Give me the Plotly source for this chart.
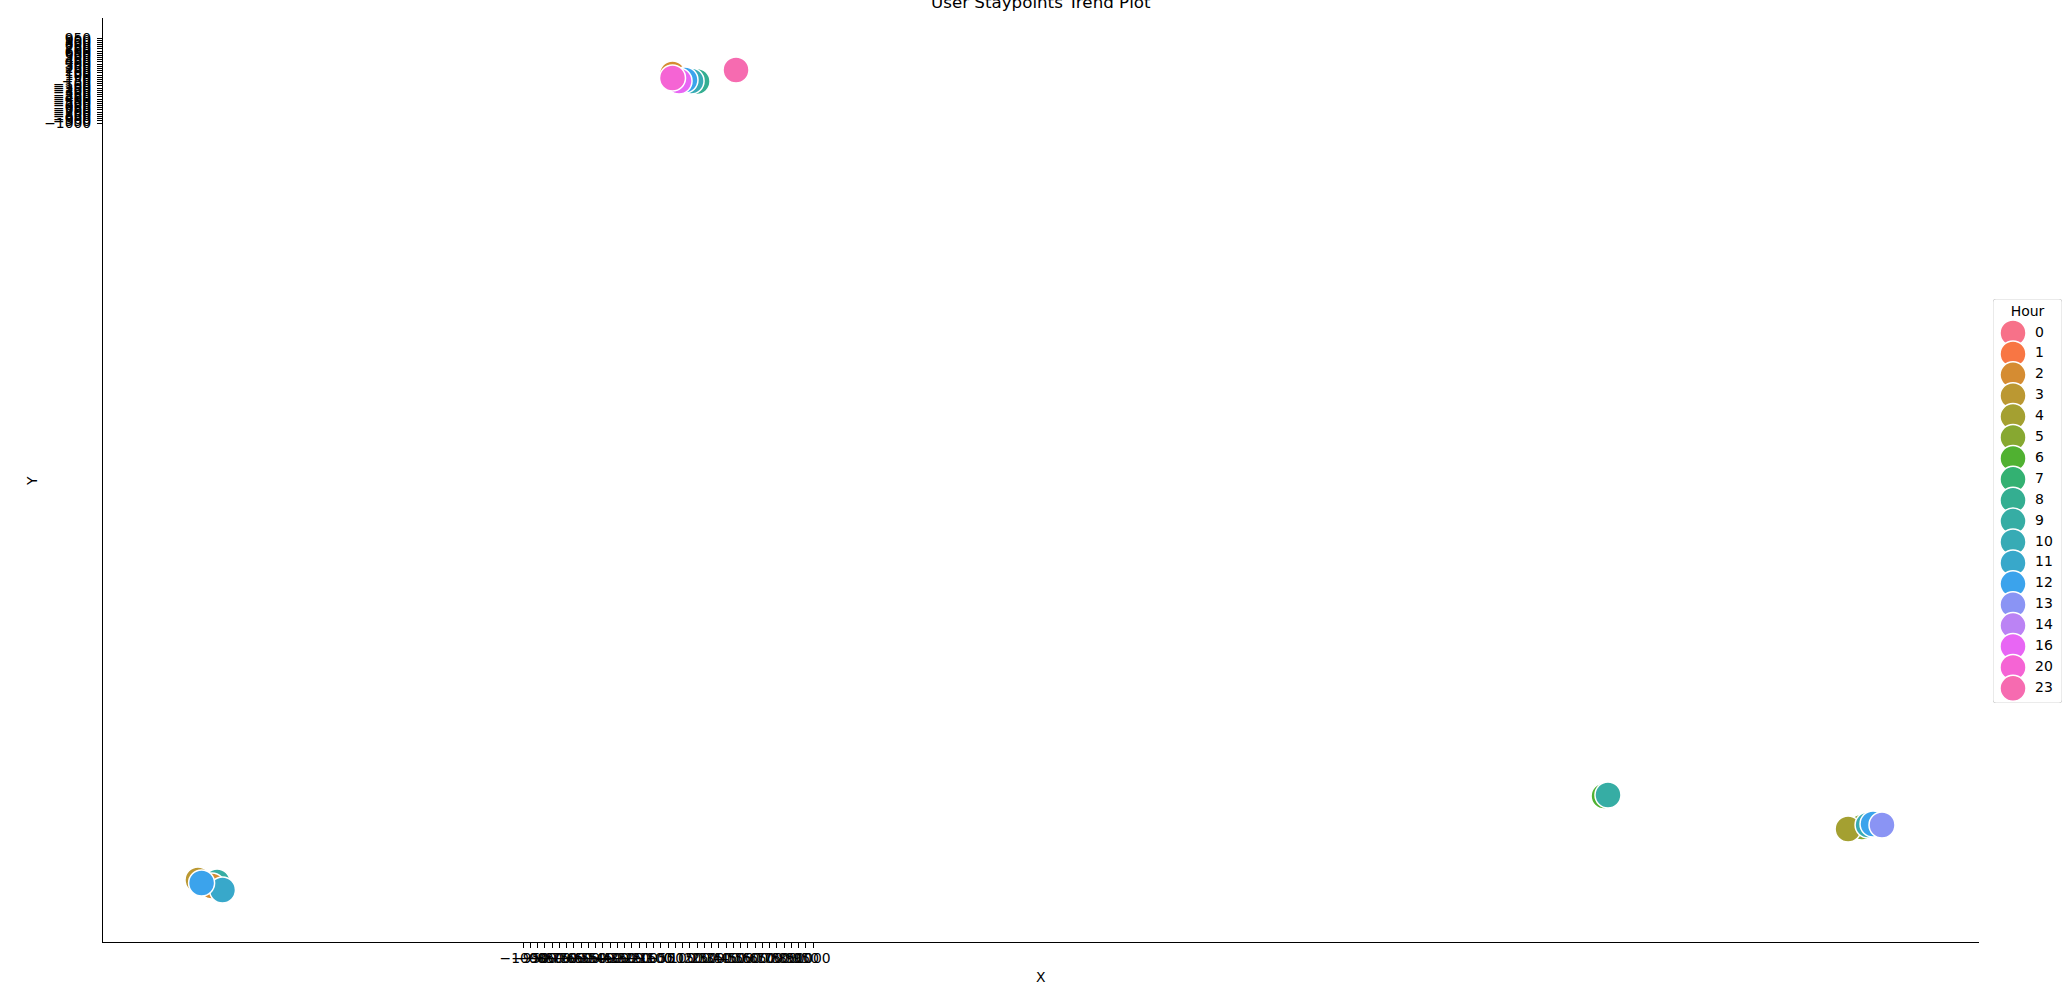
import math
import plotly.graph_objects as go

# ---------------- data ----------------
hour_levels = [0, 1, 2, 3, 4, 5, 6, 7, 8, 9, 10, 11, 12, 13, 14, 16, 20, 23]

point_hour = [0, 1, 7, 14, 2, 8, 10, 12, 16, 20, 23,
              3, 9, 2, 11, 12,
              6, 9,
              5, 4, 10, 12, 13]
point_x = [55, 41, 193, 97, 31, 200, 159, 117, 76, 31, 469,
           -3242, -3110, -3145, -3073, -3217,
           6456, 6483,
           8235, 8139, 8277, 8311, 8373]
point_y = [32, 78, -59, -13, 124, -48, -36, -13, -36, 32, 216,
           -18365, -18411, -18503, -18595, -18434,
           -16439, -16416,
           -17150, -17196, -17104, -17081, -17104]

x_ticks = list(range(-1000, 1001, 50))
y_ticks = list(range(-1000, 951, 50))

title_text = "User Staypoints Trend Plot"
x_label = "X"
y_label = "Y"
legend_title = "Hour"

# ---------------- husl palette (seaborn) ----------------
_m = [[3.2406, -1.5372, -0.4986], [-0.9689, 1.8758, 0.0415], [0.0557, -0.2040, 1.0570]]
_refU, _refV = 0.19784, 0.46834


def _max_chroma(L, H):
    hrad = math.radians(H)
    sinH, cosH = math.sin(hrad), math.cos(hrad)
    sub1 = (L + 16) ** 3 / 1560896.0
    sub2 = sub1 if sub1 > 0.008856 else (L / 903.3)
    result = float("inf")
    for m1, m2, m3 in _m:
        top = (0.99915 * m1 + 1.05122 * m2 + 1.14460 * m3) * sub2
        rbottom = 0.86330 * m3 - 0.17266 * m2
        lbottom = 0.12949 * m3 - 0.38848 * m1
        bottom = (rbottom * sinH + lbottom * cosH) * sub2
        for t in (0.0, 1.0):
            C = L * (top - 1.05122 * t) / (bottom + 0.17266 * sinH * t)
            if 0.0 < C < result:
                result = C
    return result


def _husl_to_rgb(h, s, l):
    C = _max_chroma(l, h) / 100.0 * s
    hr = math.radians(h)
    U, V = math.cos(hr) * C, math.sin(hr) * C
    t = (l + 16) / 116.0
    varY = t ** 3 if t ** 3 > 0.008856 else (116.0 * t - 16.0) / 903.3
    varU = U / (13.0 * l) + _refU
    varV = V / (13.0 * l) + _refV
    Y = varY
    X = 0.0 - (9.0 * Y * varU) / ((varU - 4.0) * varV - varU * varV)
    Z = (9.0 * Y - (15.0 * varV * Y) - (varV * X)) / (3.0 * varV)
    out = []
    for row in _m:
        c = row[0] * X + row[1] * Y + row[2] * Z
        c = 12.92 * c if c <= 0.0031308 else 1.055 * math.pow(c, 1 / 2.4) - 0.055
        out.append(min(max(c, 0.0), 1.0))
    return "rgb(%d,%d,%d)" % tuple(round(v * 255) for v in out)


def husl_palette(n, h=0.01, s=0.9, l=0.65):
    hues = [((i / n) + h) % 1 * 359 for i in range(n)]
    return [_husl_to_rgb(hh, s * 99, l * 99) for hh in hues]


palette = husl_palette(len(hour_levels))
color_of = {hr: palette[i] for i, hr in enumerate(hour_levels)}

# ---------------- geometry ----------------
W, H = 2067, 1000
ml, mr, mt, mb = 103, 0, 18, 58
plot_w = W - ml - mr
plot_h = H - mt - mb
main_right = 1979
leg_x0, leg_x1, leg_y0, leg_y1 = 1993, 2062, 299, 703


def px_x(p):
    return (p - ml) / plot_w


def px_y(p):
    return (H - mb - p) / plot_h


FONT = "DejaVu Sans"
MS = 26
fig = go.Figure()

fig.add_trace(go.Scatter(
    x=point_x, y=point_y, mode="markers",
    marker=dict(size=MS, color=[color_of[h] for h in point_hour],
                line=dict(color="white", width=1.5)),
    showlegend=False, hoverinfo="skip", xaxis="x", yaxis="y"))

# legend (manual, on its own small axes)
leg_h = leg_y1 - leg_y0
first_item = 333
step = 20.9
leg_y = [leg_y1 - (first_item + i * step) for i in range(len(hour_levels))]
fig.add_trace(go.Scatter(
    x=[20] * len(hour_levels), y=leg_y, mode="markers",
    marker=dict(size=MS, color=palette, line=dict(color="white", width=1.5)),
    showlegend=False, hoverinfo="skip", xaxis="x2", yaxis="y2"))
fig.add_trace(go.Scatter(
    x=[42] * len(hour_levels), y=leg_y, mode="text",
    text=[str(h) for h in hour_levels], textposition="middle right",
    textfont=dict(family=FONT, size=14, color="black"),
    showlegend=False, hoverinfo="skip", xaxis="x2", yaxis="y2"))
fig.add_trace(go.Scatter(
    x=[(leg_x1 - leg_x0) / 2], y=[leg_y1 - 312], mode="text",
    text=[legend_title], textposition="middle center",
    textfont=dict(family=FONT, size=14, color="black"),
    showlegend=False, hoverinfo="skip", xaxis="x2", yaxis="y2"))

lw, lh, r = leg_x1 - leg_x0, leg_h, 3
rounded = (f"M {r},0 L {lw-r},0 Q {lw},0 {lw},{r} L {lw},{lh-r} Q {lw},{lh} {lw-r},{lh} "
           f"L {r},{lh} Q 0,{lh} 0,{lh-r} L 0,{r} Q 0,0 {r},0 Z")

fig.update_layout(
    width=W, height=H,
    margin=dict(l=ml, r=mr, t=mt, b=mb, pad=0),
    paper_bgcolor="white", plot_bgcolor="white",
    font=dict(family=FONT, size=13.9, color="black"),
    xaxis=dict(domain=[0, px_x(main_right)], range=[-3897, 9042],
               tickmode="array", tickvals=x_ticks, ticktext=[str(v).replace("-", "\u2212") for v in x_ticks],
               tickangle=0, showgrid=False, zeroline=False,
               showline=True, linecolor="black", linewidth=1.1,
               ticks="outside", ticklen=5, tickwidth=1, tickcolor="black",
               ticklabelstandoff=-2,
               tickfont=dict(family=FONT, size=13.9, color="black"), anchor="y"),
    yaxis=dict(domain=[0, 1], range=[-19788, 1409],
               tickmode="array", tickvals=y_ticks, ticktext=[str(v).replace("-", "\u2212") for v in y_ticks],
               showgrid=False, zeroline=False,
               showline=True, linecolor="black", linewidth=1.1,
               ticks="outside", ticklen=5, tickwidth=1, tickcolor="black",
               ticklabelstandoff=3,
               tickfont=dict(family=FONT, size=13.9, color="black"), anchor="x"),
    xaxis2=dict(domain=[px_x(leg_x0), px_x(leg_x1)], range=[0, lw], visible=False,
                anchor="y2", fixedrange=True),
    yaxis2=dict(domain=[px_y(leg_y1), px_y(leg_y0)], range=[0, lh], visible=False,
                anchor="x2", fixedrange=True),
    shapes=[dict(type="path", xref="x2", yref="y2", path=rounded,
                 line=dict(color="#d6d6d6", width=1), fillcolor="rgba(255,255,255,0.8)",
                 layer="below")],
    annotations=[
        dict(text=title_text, xref="paper", yref="paper", x=px_x(1041), y=px_y(2),
             xanchor="center", yanchor="middle", showarrow=False,
             font=dict(family=FONT, size=16.7, color="black")),
        dict(text=x_label, xref="paper", yref="paper", x=px_x(1041), y=px_y(977),
             xanchor="center", yanchor="middle", showarrow=False,
             font=dict(family=FONT, size=13.9, color="black")),
        dict(text=y_label, xref="paper", yref="paper", x=px_x(32), y=px_y(481),
             xanchor="center", yanchor="middle", showarrow=False, textangle=-90,
             font=dict(family=FONT, size=13.9, color="black")),
    ],
)

fig.write_html("out.html")
